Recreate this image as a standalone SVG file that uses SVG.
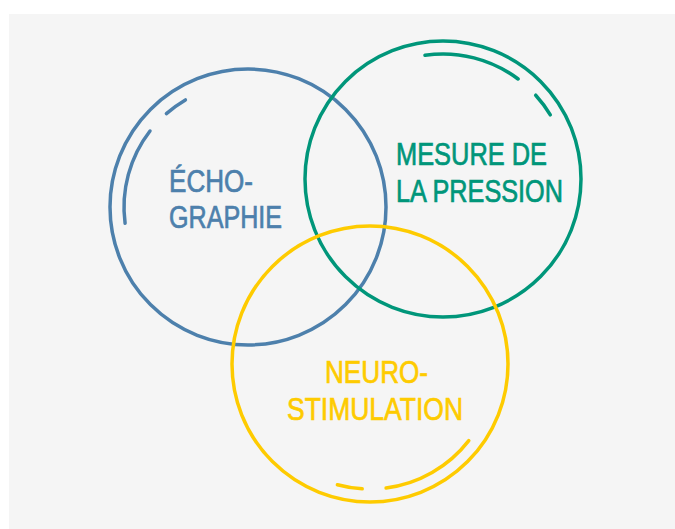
<svg xmlns="http://www.w3.org/2000/svg" width="675" height="529" viewBox="0 0 675 529">
  <style>
    .ring { fill: none; stroke-width: 3.5; }
    .arc { fill: none; stroke-width: 3.5; stroke-linecap: round; }
    .lbl { font-family: "Liberation Sans", Arial, sans-serif; font-size: 31px; stroke-width: 0.7px; }
    .blue { stroke: #4d80ac; }
    .green { stroke: #00967a; }
    .yellow { stroke: #fecb00; }
  </style>
  <rect x="0" y="0" width="675" height="529" fill="#ffffff"/>
  <rect x="9" y="14" width="666" height="515" fill="#f5f5f5"/>

  <g id="echographie">
    <circle class="ring blue" cx="248" cy="207" r="138"/>
    <path class="arc blue" d="M125.1,223.2 A124,124 0 0 1 150,131"/>
    <path class="arc blue" d="M166.4,113.6 A124,124 0 0 1 185.4,99.9"/>
    <text class="lbl blue" fill="#4d80ac" x="169" y="192" textLength="84" lengthAdjust="spacingAndGlyphs">ÉCHO-</text>
    <text class="lbl blue" fill="#4d80ac" x="169" y="228" textLength="113" lengthAdjust="spacingAndGlyphs">GRAPHIE</text>
  </g>

  <g id="mesure-pression">
    <circle class="ring green" cx="443" cy="179" r="138"/>
    <path class="arc green" d="M425,55.3 A125,125 0 0 1 518.1,79"/>
    <path class="arc green" d="M535.7,95.2 A125,125 0 0 1 550.3,114.8"/>
    <text class="lbl green" fill="#00967a" x="396" y="165" textLength="151" lengthAdjust="spacingAndGlyphs">MESURE DE</text>
    <text class="lbl green" fill="#00967a" x="396" y="202" textLength="167" lengthAdjust="spacingAndGlyphs">LA PRESSION</text>
  </g>

  <g id="neurostimulation">
    <circle class="ring yellow" cx="370" cy="364" r="138"/>
    <path class="arc yellow" d="M468.8,440.6 A125,125 0 0 1 386.1,488"/>
    <path class="arc yellow" d="M362.2,488.8 A125,125 0 0 1 337.4,484.7"/>
    <text class="lbl yellow" fill="#fecb00" x="325" y="383" textLength="103" lengthAdjust="spacingAndGlyphs">NEURO-</text>
    <text class="lbl yellow" fill="#fecb00" x="287" y="420" textLength="176" lengthAdjust="spacingAndGlyphs">STIMULATION</text>
  </g>

  <g id="connectors"></g>
</svg>
